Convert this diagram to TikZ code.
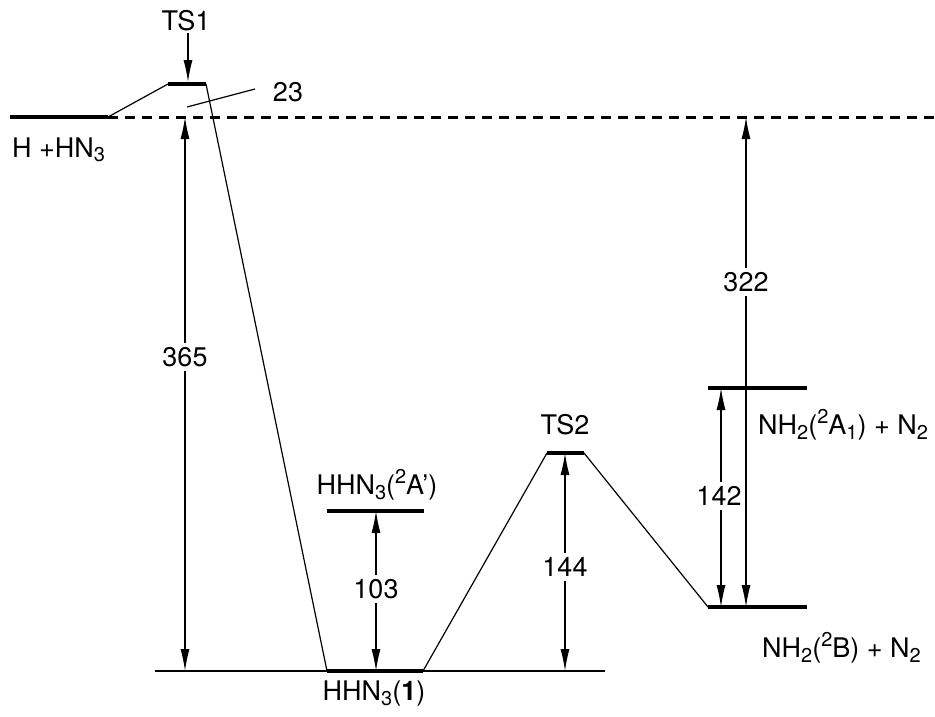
\documentclass[tikz,border=0pt]{standalone}
\usepackage{fontspec}
\setmainfont{TeX Gyre Heros}
\usetikzlibrary{arrows.meta}
\newcommand{\lo}[1]{\raisebox{-0.32ex}{\fontsize{20}{20}\selectfont #1}}
\newcommand{\hi}[1]{\raisebox{0.75ex}{\fontsize{20}{20}\selectfont #1}}
\begin{document}
\begin{tikzpicture}[x=1pt,y=-1pt,
  lvl/.style={line width=4.5pt},
  thin/.style={line width=1.2pt},
  dim/.style={line width=1.2pt,{Latex[length=22pt,width=9pt]}-{Latex[length=22pt,width=9pt]}},
  lab/.style={font=\fontsize{27}{30}\selectfont,inner sep=1pt},
  num/.style={lab,fill=white,inner sep=4pt}]
\useasboundingbox (0,0) rectangle (935,716);
% coordinates
\coordinate (R1) at (10,117); \coordinate (R2) at (108,117);
\coordinate (D2) at (935,117);
\coordinate (T1a) at (168,84); \coordinate (T1b) at (206,84);
\coordinate (M1a) at (327,671); \coordinate (M1b) at (423,671);
\coordinate (Ea) at (327,511); \coordinate (Eb) at (424,511);
\coordinate (T2a) at (547,453); \coordinate (T2b) at (584,453);
\coordinate (Aa) at (708,388); \coordinate (Ab) at (807,388);
\coordinate (Ba) at (708,607); \coordinate (Bb) at (807,607);
\coordinate (BL1) at (155,671); \coordinate (BL2) at (605,671);
% levels
\draw[lvl] (R1) -- (R2);
\draw[line width=3pt,dash pattern=on 10pt off 7pt] (R2) -- (D2);
\draw[lvl] (T1a) -- (T1b);
\draw[lvl] (M1a) -- (M1b);
\draw[lvl] (Ea) -- (Eb);
\draw[lvl] (T2a) -- (T2b);
\draw[lvl] (Aa) -- (Ab);
\draw[lvl] (Ba) -- (Bb);
\draw[thin] (BL1) -- (BL2);
% connectors
\draw[thin] (R2) -- (T1a);
\draw[thin] (T1b) -- (M1a);
\draw[thin] (M1b) -- (T2a);
\draw[thin] (T2b) -- (Ba);
% labels
\node[lab,anchor=west] (lR) at (11,150) {H +HN\lo{3}};
\node[lab] (lT1) at (186,21) {TS1};
\coordinate (t1tip) at (188,82);
\draw[thin,-{Latex[length=22pt,width=9pt]}] (lT1.south -| t1tip) -- (t1tip);
\node[lab] (l23) at (288,92) {23};
\coordinate (p23) at (187,107); \coordinate (q23) at (255,89);
\draw[thin] (p23) -- (q23);
\node[lab] (lE) at (377,485) {HHN\lo{3}(\hi{2}A')};
\node[lab] (lM) at (374,694) {HHN\lo{3}(\textbf{1})};
\node[lab] (lT2) at (565,425) {TS2};
\node[lab,anchor=west] (lA) at (757,425) {NH\lo{2}(\hi{2}A\lo{1}) + N\lo{2}};
\node[lab,anchor=west] (lB) at (761,648) {NH\lo{2}(\hi{2}B) + N\lo{2}};
% dimension arrows
\coordinate (d365a) at (185,117); \coordinate (d365b) at (185,671);
\draw[dim] (d365a) -- (d365b);
\node[num] (n365) at (185,357) {365};
\coordinate (d103a) at (376,511); \coordinate (d103b) at (376,671);
\draw[dim] (d103a) -- (d103b);
\node[num] (n103) at (376,589) {103};
\coordinate (d144a) at (565,453); \coordinate (d144b) at (565,671);
\draw[dim] (d144a) -- (d144b);
\node[num] (n144) at (565,567) {144};
\coordinate (d142a) at (721,388); \coordinate (d142b) at (721,607);
\draw[dim] (d142a) -- (d142b);
\node[num] (n142) at (719,496) {142};
\coordinate (d322a) at (746,117); \coordinate (d322b) at (746,607);
\draw[dim] (d322a) -- (d322b);
\node[num] (n322) at (746,282) {322};
\end{tikzpicture}
\end{document}
